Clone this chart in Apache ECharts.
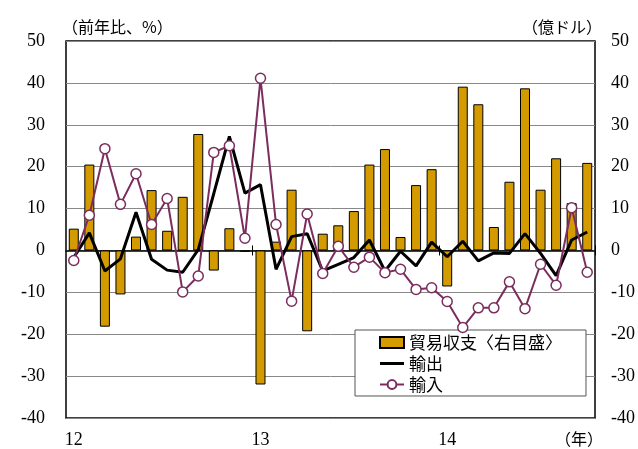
<!DOCTYPE html>
<html><head><meta charset="utf-8">
<script src="https://cdn.jsdelivr.net/npm/echarts@6/dist/echarts.min.js"></script>
<style>html,body{margin:0;padding:0;background:#fff}#c{width:638px;height:449px}</style>
</head><body><div id="c"></div>
<script>
const categories = ['2012.01','2012.02','2012.03','2012.04','2012.05','2012.06','2012.07','2012.08','2012.09','2012.10','2012.11','2012.12',
  '2013.01','2013.02','2013.03','2013.04','2013.05','2013.06','2013.07','2013.08','2013.09','2013.10','2013.11','2013.12',
  '2014.01','2014.02','2014.03','2014.04','2014.05','2014.06','2014.07','2014.08','2014.09','2014.10'];
const yearTickLabels = ['12','13','14'];
const yTicks = [-40, 50, 10];
const tradeBalance = [5.2, 20.5, -18.2, -10.5, 3.3, 14.4, 4.7, 12.8, 27.8, -4.8, 5.3, -0.3,
  -32.0, 2.1, 14.5, -19.3, 4.0, 6.0, 9.4, 20.5, 24.2, 3.2, 15.6, 19.4,
  -8.6, 39.1, 34.9, 5.6, 16.4, 38.7, 14.5, 22.0, 11.3, 20.9];
const exportsYoY = [-1.7, 4.2, -4.9, -2.0, 9.1, -2.1, -4.7, -5.2, 0.2, 13.6, 27.2, 13.7,
  15.7, -4.5, 3.3, 4.0, -4.9, -3.3, -1.7, 2.5, -4.9, -0.2, -3.7, 2.0,
  -1.5, 2.2, -2.5, -0.6, -0.7, 4.0, -0.7, -6.0, 2.5, 4.4];
const importsYoY = [-2.4, 8.4, 24.3, 11.0, 18.3, 6.2, 12.4, -9.9, -6.1, 23.4, 25.0, 2.9,
  41.1, 6.2, -12.1, 8.7, -5.5, 1.0, -4.0, -1.6, -5.3, -4.5, -9.3, -8.9,
  -12.2, -18.4, -13.7, -13.7, -7.5, -13.9, -3.3, -8.3, 10.2, -5.2];

const serif = 'Liberation Serif, Times New Roman, serif';
const jp = 'Noto Sans CJK JP, sans-serif';
const purple = '#7B2D5E';
const gold = '#D49B00';

const chart = echarts.init(document.getElementById('c'), null, {renderer: 'canvas'});
const yAxisBase = {
  type: 'value', min: yTicks[0], max: yTicks[1], interval: yTicks[2],
  axisLine: {show: false}, axisTick: {show: false},
  axisLabel: {color: '#000', fontSize: 18, fontFamily: serif}
};
chart.setOption({
  animation: false,
  grid: {left: 66, right: 41, top: 41, bottom: 30, show: true, borderColor: '#000', borderWidth: 1.5, backgroundColor: 'transparent'},
  graphic: [
    {type: 'text', left: 62, top: 19, style: {text: '（前年比、%）', font: '16px ' + jp, fill: '#000'}},
    {type: 'text', right: 36, top: 19, style: {text: '（億ドル）', font: '16px ' + jp, fill: '#000'}},
    {type: 'text', left: 555, top: 431, style: {text: '（年）', font: '16px ' + jp, fill: '#000'}}
  ],
  legend: {
    orient: 'vertical', left: 355, top: 330,
    backgroundColor: '#fff', borderColor: '#555', borderWidth: 1,
    padding: [4, 24, 3, 24], itemGap: 4, itemWidth: 24, itemHeight: 11,
    textStyle: {fontSize: 17, fontFamily: jp, color: '#000'},
    data: [
      {name: '貿易収支〈右目盛〉', icon: 'rect'},
      {name: '輸出', icon: 'path://M0,0h24v3h-24z'},
      {name: '輸入'}
    ]
  },
  xAxis: [
    {type: 'category', data: categories, position: 'bottom',
      axisLine: {show: false, onZero: false}, axisTick: {show: false},
      axisLabel: {interval: (i) => i % 12 === 0, formatter: (v, i) => yearTickLabels[Math.round(i / 12)],
        color: '#000', fontSize: 18, fontFamily: serif, margin: 13}},
    {type: 'category', data: categories, position: 'bottom',
      axisLine: {show: true, onZero: true, onZeroAxisIndex: 0, lineStyle: {color: '#000', width: 1.5}},
      axisTick: {show: true, interval: (i) => i === 12 || i === 24, length: 5, lineStyle: {color: '#000', width: 1}},
      axisLabel: {show: false}},
    {type: 'category', data: categories, position: 'top',
      axisLine: {show: false, onZero: true, onZeroAxisIndex: 0},
      axisTick: {show: true, interval: (i) => i === 12 || i === 24, length: 5, lineStyle: {color: '#000', width: 1}},
      axisLabel: {show: false}}
  ],
  yAxis: [
    Object.assign({}, yAxisBase, {position: 'left', splitLine: {show: true, lineStyle: {color: '#888', width: 1}},
      axisLabel: Object.assign({}, yAxisBase.axisLabel, {margin: 21})}),
    Object.assign({}, yAxisBase, {position: 'right', splitLine: {show: false},
      axisLabel: Object.assign({}, yAxisBase.axisLabel, {margin: 16, align: 'left'})})
  ],
  series: [
    {name: '貿易収支〈右目盛〉', type: 'bar', yAxisIndex: 1, data: tradeBalance, barWidth: 10, z: 2,
      itemStyle: {color: gold, borderColor: '#000', borderWidth: 1}},
    {name: '輸出', type: 'line', data: exportsYoY, symbol: 'none', z: 3,
      lineStyle: {color: '#000', width: 3}, itemStyle: {color: '#000'}},
    {name: '輸入', type: 'line', data: importsYoY, symbol: 'circle', symbolSize: 10, z: 4,
      lineStyle: {color: purple, width: 2}, itemStyle: {color: '#fff', borderColor: purple, borderWidth: 1.5}}
  ]
});
</script></body></html>
